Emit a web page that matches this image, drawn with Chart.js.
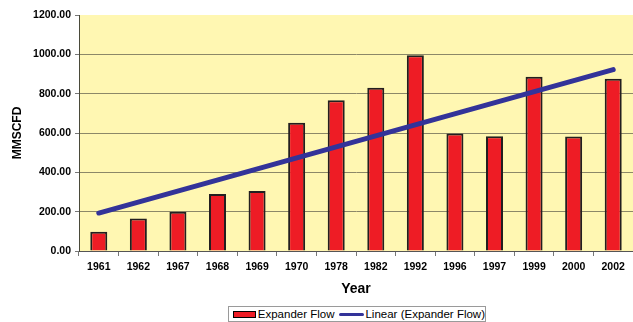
<!DOCTYPE html>
<html>
<head>
<meta charset="utf-8">
<script src="https://cdn.jsdelivr.net/npm/chart.js@4.4.1/dist/chart.umd.min.js"></script>
<style>
  html, body { margin: 0; padding: 0; background: #fff; }
  #wrap { position: relative; width: 633px; height: 322px; }
  #legend {
    position: absolute; left: 228px; top: 306px; width: 256px; height: 14px;
    border: 1px solid #9a9a9a; background: #fff;
    font: 11.5px "Liberation Sans", Arial, sans-serif; color: #000;
    display: flex; align-items: center; white-space: nowrap;
  }
  .swatch-bar { display: inline-block; width: 24px; height: 5px; background: #ee1c25; border: 1px solid #000; margin: 0 2px 0 4px; }
  .swatch-line { display: inline-block; width: 30px; height: 3px; background: #333399; border-radius: 2px; margin: 0 1px 0 4px; }
</style>
</head>
<body>
<div id="wrap">
  <canvas id="flowChart" width="633" height="322"></canvas>
  <div id="legend">
    <span class="swatch-bar"></span><span>Expander Flow</span>
    <span class="swatch-line"></span><span>Linear (Expander Flow)</span>
  </div>
</div>
<script>
const years = ["1961", "1962", "1967", "1968", "1969", "1970", "1978", "1982", "1992", "1996", "1997", "1999", "2000", "2002"];
const expanderFlow = [98, 165, 200, 290, 305, 652, 767, 830, 995, 598, 583, 886, 582, 876];
// trend line end values at the first and last year
const trendStart = 193;
const trendEnd = 922;
const yTicks = [0, 200, 400, 600, 800, 1000, 1200];

const trend = years.map((y, i) => i === 0 ? trendStart : (i === years.length - 1 ? trendEnd : null));

const plotBackground = {
    id: "plotBackground",
    beforeDraw(chart) {
        const { ctx, chartArea: a } = chart;
        ctx.save();
        ctx.fillStyle = "#fff7b2";
        ctx.fillRect(a.left, a.top, a.right - a.left, a.bottom - a.top);
        ctx.restore();
    }
};

const font = "'Liberation Sans', Arial, sans-serif";

new Chart(document.getElementById("flowChart"), {
    type: "bar",
    data: {
        labels: years,
        datasets: [{
            label: "Expander Flow",
            data: expanderFlow,
            backgroundColor: "#ee1c25",
            borderColor: "#231f20",
            borderWidth: 2,
            barPercentage: 0.43,
            categoryPercentage: 1,
            order: 1
        }, {
            type: "line",
            label: "Linear (Expander Flow)",
            data: trend,
            spanGaps: true,
            borderColor: "#333399",
            borderWidth: 5,
            borderCapStyle: "round",
            pointRadius: 0,
            order: 0
        }]
    },
    options: {
        responsive: false,
        animation: false,
        layout: { padding: { top: 15, right: 0, bottom: 0, left: 0 } },
        plugins: {
            legend: { display: false },
            tooltip: { enabled: false }
        },
        scales: {
            x: {
                offset: true,
                afterFit(scale) { scale.height = 71; },
                grid: { offset: true, drawOnChartArea: false, drawTicks: true, tickLength: 5, color: "#777" },
                border: { color: "#555", width: 1 },
                ticks: { color: "#000", padding: 5, font: { family: font, size: 10.5, weight: "bold" }, maxRotation: 0 },
                title: { display: true, text: "Year", color: "#000", padding: { top: 0, bottom: 24 }, font: { family: font, size: 14, weight: "bold" } }
            },
            y: {
                min: 0,
                max: 1200,
                afterFit(scale) { scale.width = 79; },
                afterBuildTicks(scale) { scale.ticks = yTicks.map(v => ({ value: v })); },
                grid: {
                    color: ctx => ctx.tick && ctx.tick.value === 1200 ? "rgba(0,0,0,0)" : "#8c8868",
                    tickColor: "#777",
                    tickLength: 4
                },
                border: { color: "#4a4a3a", width: 1 },
                ticks: { color: "#000", padding: 4, font: { family: font, size: 10.5, weight: "bold" }, callback: v => v.toFixed(2) },
                title: { display: true, text: "MMSCFD", color: "#000", padding: { top: 10, bottom: 0 }, font: { family: font, size: 12, weight: "bold" } }
            }
        }
    },
    plugins: [plotBackground]
});
</script>
</body>
</html>
